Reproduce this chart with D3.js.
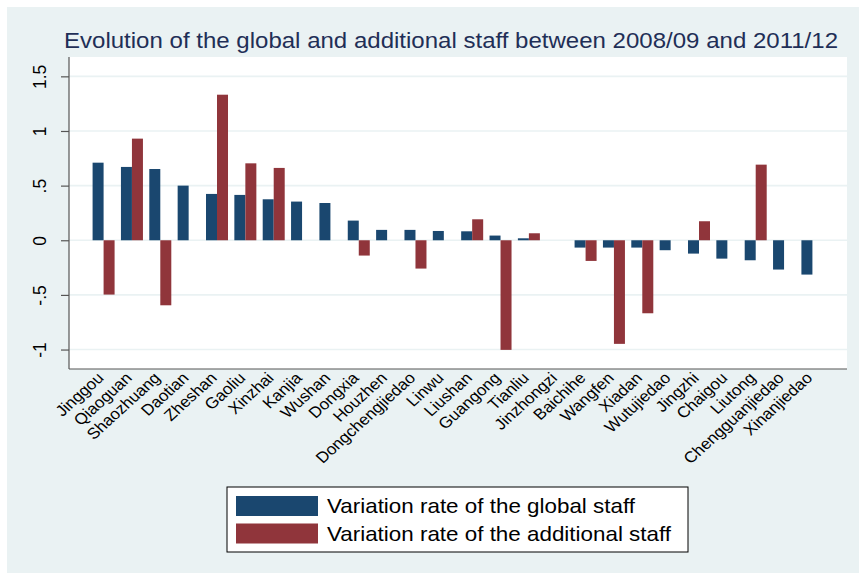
<!DOCTYPE html>
<html>
<head>
<meta charset="utf-8">
<script src="https://cdn.jsdelivr.net/npm/d3@7"></script>
<style>
  html, body { margin: 0; padding: 0; background: #ffffff; }
  svg { display: block; font-family: "Liberation Sans", Arial, sans-serif; }
</style>
</head>
<body>
<svg id="chart" width="859" height="573"></svg>
<script>
const categories = ["Jinggou","Qiaoguan","Shaozhuang","Daotian","Zheshan","Gaoliu","Xinzhai","Kanjia","Wushan","Dongxia","Houzhen","Dongchengjiedao","Linwu","Liushan","Guangong","Tianliu","Jinzhongzi","Baichihe","Wangfen","Xiadan","Wutujiedao","Jingzhi","Chaigou","Liutong","Chengguanjiedao","Xinanjiedao"];
const globalStaff = [0.710,0.671,0.652,0.500,0.424,0.415,0.375,0.354,0.341,0.180,0.095,0.095,0.085,0.082,0.043,0.018,0,-0.067,-0.067,-0.067,-0.091,-0.122,-0.168,-0.183,-0.268,-0.314];
const additionalStaff = [-0.497,0.930,-0.595,0,1.332,0.704,0.662,0,0,-0.140,0,-0.259,0,0.192,-1.003,0.064,0,-0.189,-0.948,-0.668,0,0.174,0,0.692,0,0];
const yTicks = [-1,-0.5,0,0.5,1,1.5];
const yTickLabels = ["-1","-.5","0",".5","1","1.5"];
const seriesNames = ["Variation rate of the global staff","Variation rate of the additional staff"];
const seriesColors = ["#1a476f","#90353b"];
const title = "Evolution of the global and additional staff between 2008/09 and 2011/12";

const svg = d3.select("#chart");
const W = 859, H = 573;
const plot = {left: 69, right: 847, top: 57, bottom: 369};

// background
svg.append("rect").attr("x", 7).attr("y", 7).attr("width", W - 7).attr("height", H - 7).attr("fill", "#eaf2f3");
svg.append("rect").attr("x", plot.left).attr("y", plot.top)
  .attr("width", plot.right - plot.left).attr("height", plot.bottom - plot.top).attr("fill", "#ffffff");

const y = d3.scaleLinear().domain([-1.178, 1.677]).range([plot.bottom, plot.top]);
const x = d3.scaleBand().domain(categories).range([plot.left, plot.right])
  .paddingInner(0.224).paddingOuter(0.832);
const xs = d3.scaleBand().domain([0, 1]).range([0, x.bandwidth()]);

// gridlines
svg.append("g").selectAll("line").data(yTicks).join("line")
  .attr("x1", plot.left).attr("x2", plot.right)
  .attr("y1", d => y(d)).attr("y2", d => y(d))
  .attr("stroke", "#eaf2f3").attr("stroke-width", 1.6);

// title
svg.append("text").attr("x", 64).attr("y", 48).attr("font-size", 22)
  .attr("textLength", 774).attr("lengthAdjust", "spacingAndGlyphs")
  .attr("fill", "#1f2f57").text(title);

// bars
const series = [globalStaff, additionalStaff];
series.forEach((vals, si) => {
  svg.append("g").selectAll("rect").data(vals).join("rect")
    .attr("x", (d, i) => x(categories[i]) + xs(si))
    .attr("width", xs.bandwidth())
    .attr("y", d => y(Math.max(0, d)))
    .attr("height", d => Math.abs(y(d) - y(0)))
    .attr("fill", seriesColors[si]);
});

// y axis
const yAxis = d3.axisLeft(y).tickValues(yTicks).tickSize(8)
  .tickFormat((d, i) => yTickLabels[i]);
const gy = svg.append("g").attr("transform", `translate(${plot.left},0)`).call(yAxis);
gy.select(".domain").attr("stroke", "#555").attr("stroke-width", 1.2)
  .attr("d", `M0,${plot.top}V${plot.bottom}`);
gy.selectAll(".tick line").attr("stroke", "#555").attr("stroke-width", 1.2);
gy.selectAll(".tick text").attr("font-size", 17.5).attr("fill", "#000")
  .attr("font-family", "'Liberation Sans', Arial, sans-serif")
  .attr("text-anchor", "middle")
  .attr("x", null).attr("y", null).attr("dy", "0")
  .attr("transform", "translate(-23,0) rotate(-90)");

// x axis
const xAxis = d3.axisBottom(x).tickSize(0).tickPadding(0);
const gx = svg.append("g").attr("transform", `translate(0,${plot.bottom})`).call(xAxis);
gx.select(".domain").attr("stroke", "#555").attr("stroke-width", 1.2)
  .attr("d", `M${plot.left},0H${plot.right}`);
gx.selectAll(".tick text").attr("font-size", 15.5).attr("fill", "#000")
  .attr("font-family", "'Liberation Sans', Arial, sans-serif")
  .attr("text-anchor", "end").attr("y", null).attr("dy", null)
  .attr("transform", "translate(1,10) scale(1.1,1) rotate(-45)");

// legend
const legendTextLen = [308, 344];
const lg = svg.append("g");
lg.append("rect").attr("x", 227).attr("y", 487).attr("width", 461).attr("height", 65)
  .attr("fill", "#fff").attr("stroke", "#000").attr("stroke-width", 1);
seriesNames.forEach((name, i) => {
  lg.append("rect").attr("x", 236).attr("y", 496 + i * 27.5).attr("width", 82).attr("height", 20)
    .attr("fill", seriesColors[i]);
  lg.append("text").attr("x", 327).attr("y", 513 + i * 27.5).attr("font-size", 21)
    .attr("textLength", legendTextLen[i]).attr("lengthAdjust", "spacingAndGlyphs")
    .attr("fill", "#000").text(name);
});
</script>
</body>
</html>
